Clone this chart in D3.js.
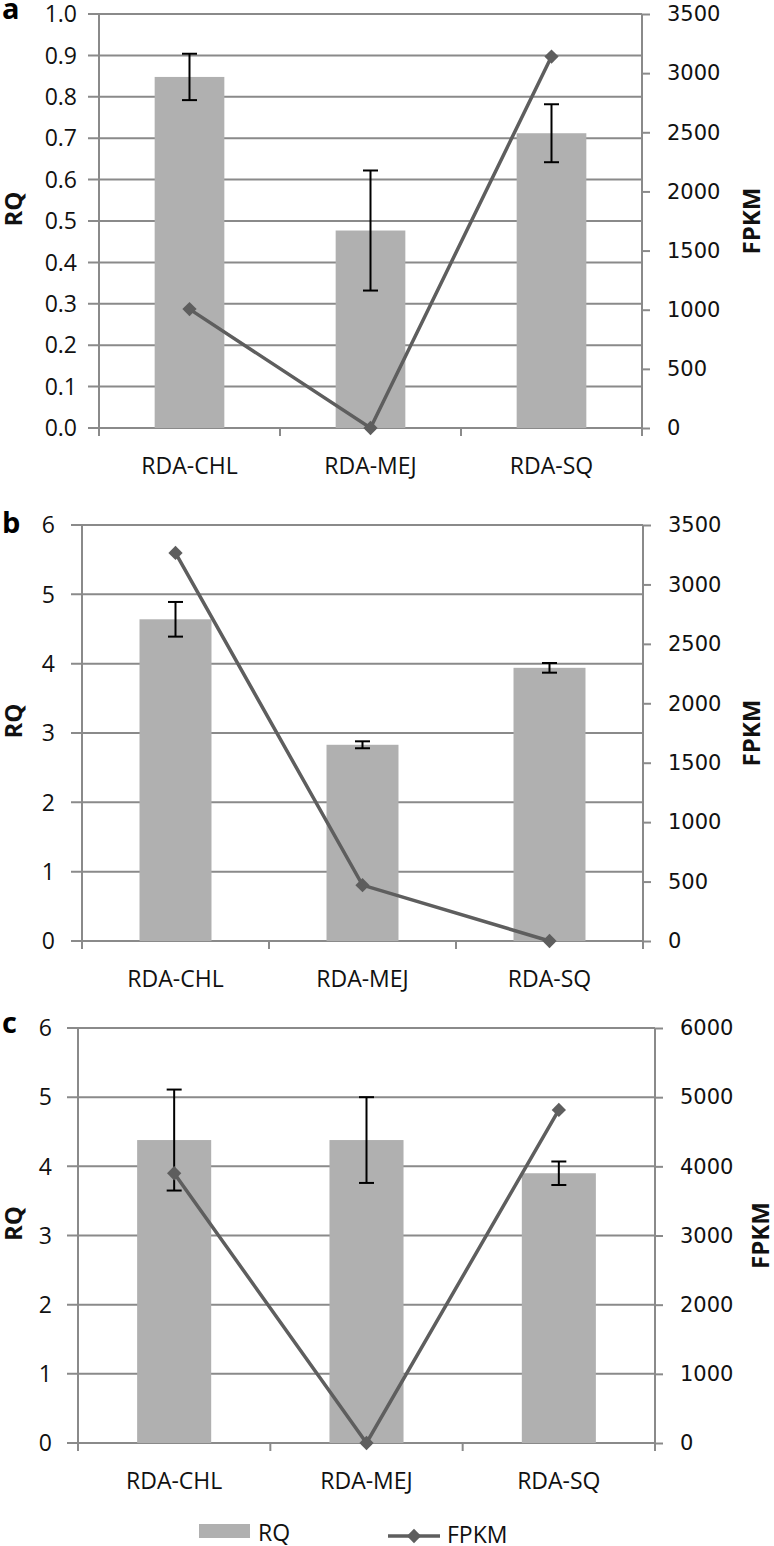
<!DOCTYPE html>
<html>
<head>
<meta charset="utf-8">
<script src="https://cdn.jsdelivr.net/npm/d3@7"></script>
<style>
  body { margin: 0; background: #fff; }
  svg { display: block; }
</style>
</head>
<body>
<div id="chart"></div>
<script>
// data
var categories = ["RDA-CHL", "RDA-MEJ", "RDA-SQ"];

var rqA = [0.848, 0.477, 0.712];
var errA = [0.056, 0.145, 0.07];
var fpkmA = [1005, 0, 3140];

var rqB = [4.64, 2.83, 3.94];
var errB = [0.25, 0.05, 0.07];
var fpkmB = [3265, 470, 0];

var rqC = [4.38, 4.38, 3.90];
var errC = [0.73, 0.62, 0.17];
var fpkmC = [3900, 0, 4815];

var leftTicksA = [0, 0.1, 0.2, 0.3, 0.4, 0.5, 0.6, 0.7, 0.8, 0.9, 1.0];
var leftTicksBC = [0, 1, 2, 3, 4, 5, 6];
var rightTicksAB = [0, 500, 1000, 1500, 2000, 2500, 3000, 3500];
var rightTicksC = [0, 1000, 2000, 3000, 4000, 5000, 6000];

var width = 774, height = 1546;
var gridColor = "#8a8a8a";
var barColor = "#b0b0b0";
var lineColor = "#5e5e5e";
var numFont = "'Open Sans', sans-serif";
var rightFont = "'DejaVu Sans', Verdana, sans-serif";

var svg = d3.select("#chart")
    .append("svg")
    .attr("width", width)
    .attr("height", height);

// one panel per gene
var panels = [
    { tag: "a", rq: rqA, err: errA, fpkm: fpkmA, yMax: 1.0, y2Max: 3500,
      leftTicks: leftTicksA, rightTicks: rightTicksAB, fmt: d3.format(".1f"),
      left: 99, right: 642, top: 14, bottom: 428, tagY: 19, labelGap: 11, fpkmX: 760 },
    { tag: "b", rq: rqB, err: errB, fpkm: fpkmB, yMax: 6, y2Max: 3500,
      leftTicks: leftTicksBC, rightTicks: rightTicksAB, fmt: d3.format("d"),
      left: 82, right: 643, top: 525, bottom: 941, tagY: 533, labelGap: 16, fpkmX: 760 },
    { tag: "c", rq: rqC, err: errC, fpkm: fpkmC, yMax: 6, y2Max: 6000,
      leftTicks: leftTicksBC, rightTicks: rightTicksC, fmt: d3.format("d"),
      left: 78, right: 655, top: 1028, bottom: 1443, tagY: 1033, labelGap: 15, fpkmX: 769 }
];

panels.forEach(function(p) {
    var g = svg.append("g");

    var x = d3.scaleBand()
        .domain(categories)
        .range([p.left, p.right])
        .padding(0);
    var y = d3.scaleLinear().domain([0, p.yMax]).range([p.bottom, p.top]);
    var y2 = d3.scaleLinear().domain([0, p.y2Max]).range([p.bottom, p.top]);

    // horizontal gridlines (with the little tick out to the left)
    g.selectAll(".grid")
        .data(p.leftTicks)
        .enter()
        .append("line")
        .attr("x1", p.left - 11)
        .attr("x2", p.right)
        .attr("y1", function(d) { return y(d); })
        .attr("y2", function(d) { return y(d); })
        .attr("stroke", gridColor)
        .attr("stroke-width", 2);

    // left tick labels
    g.selectAll(".ltext")
        .data(p.leftTicks)
        .enter()
        .append("text")
        .attr("x", p.left - 11 - p.labelGap)
        .attr("y", function(d) { return y(d); })
        .attr("dy", "0.36em")
        .attr("text-anchor", "end")
        .attr("font-family", numFont)
        .attr("font-size", 23)
        .attr("fill", "#111")
        .text(function(d) { return p.fmt(d); });

    // bars
    var barW = x.bandwidth() * 0.385;
    g.selectAll(".bar")
        .data(p.rq)
        .enter()
        .append("rect")
        .attr("x", function(d, i) { return x(categories[i]) + x.bandwidth() / 2 - barW / 2; })
        .attr("y", function(d) { return y(d); })
        .attr("width", barW)
        .attr("height", function(d) { return p.bottom - y(d); })
        .attr("fill", barColor);

    // left axis line
    g.append("line")
        .attr("x1", p.left).attr("x2", p.left)
        .attr("y1", p.top).attr("y2", p.bottom + 8)
        .attr("stroke", gridColor).attr("stroke-width", 2);

    // category ticks on the x axis
    var bounds = [0, 1, 2, 3].map(function(i) { return p.left + i * x.bandwidth(); });
    g.selectAll(".xtick")
        .data(bounds)
        .enter()
        .append("line")
        .attr("x1", function(d) { return d; })
        .attr("x2", function(d) { return d; })
        .attr("y1", p.bottom)
        .attr("y2", p.bottom + 8)
        .attr("stroke", gridColor)
        .attr("stroke-width", 2);

    // right axis
    var rightAxis = d3.axisRight(y2)
        .tickValues(p.rightTicks)
        .tickSize(8)
        .tickPadding(17)
        .tickFormat(d3.format("d"));
    var ra = g.append("g")
        .attr("transform", "translate(" + p.right + ",0)")
        .call(rightAxis);
    ra.select(".domain").remove();
    ra.append("line")
        .attr("x1", 0).attr("x2", 0)
        .attr("y1", p.top).attr("y2", p.bottom + 8)
        .attr("stroke", gridColor).attr("stroke-width", 2);
    ra.selectAll(".tick line").attr("stroke", gridColor).attr("stroke-width", 2);
    ra.selectAll(".tick text")
        .attr("font-family", rightFont)
        .attr("font-size", 21)
        .attr("fill", "#111");

    // error bars
    var eb = g.selectAll(".err")
        .data(p.rq)
        .enter()
        .append("g")
        .attr("transform", function(d, i) {
            return "translate(" + (x(categories[i]) + x.bandwidth() / 2) + ",0)";
        });
    eb.append("line")
        .attr("x1", 0).attr("x2", 0)
        .attr("y1", function(d, i) { return y(d + p.err[i]); })
        .attr("y2", function(d, i) { return y(d - p.err[i]); })
        .attr("stroke", "#000").attr("stroke-width", 2);
    eb.append("line")
        .attr("x1", -7.5).attr("x2", 7.5)
        .attr("y1", function(d, i) { return y(d + p.err[i]); })
        .attr("y2", function(d, i) { return y(d + p.err[i]); })
        .attr("stroke", "#000").attr("stroke-width", 2);
    eb.append("line")
        .attr("x1", -7.5).attr("x2", 7.5)
        .attr("y1", function(d, i) { return y(d - p.err[i]); })
        .attr("y2", function(d, i) { return y(d - p.err[i]); })
        .attr("stroke", "#000").attr("stroke-width", 2);

    // FPKM line with diamonds
    var line = d3.line()
        .x(function(d, i) { return x(categories[i]) + x.bandwidth() / 2; })
        .y(function(d) { return y2(d); });
    g.append("path")
        .datum(p.fpkm)
        .attr("d", line)
        .attr("fill", "none")
        .attr("stroke", lineColor)
        .attr("stroke-width", 3.5);
    g.selectAll(".dia")
        .data(p.fpkm)
        .enter()
        .append("path")
        .attr("d", d3.symbol().type(d3.symbolDiamond2).size(130))
        .attr("transform", function(d, i) {
            return "translate(" + (x(categories[i]) + x.bandwidth() / 2) + "," + y2(d) + ")";
        })
        .attr("fill", lineColor);

    // category labels
    g.selectAll(".cat")
        .data(categories)
        .enter()
        .append("text")
        .attr("x", function(d) { return x(d) + x.bandwidth() / 2; })
        .attr("y", p.bottom + 46)
        .attr("text-anchor", "middle")
        .attr("font-family", numFont)
        .attr("font-size", 23)
        .attr("fill", "#111")
        .text(function(d) { return d; });

    // axis titles
    var midY = (p.top + p.bottom) / 2;
    g.append("text")
        .attr("transform", "translate(22," + (midY - 12) + ")rotate(-90)")
        .attr("text-anchor", "middle")
        .attr("font-family", numFont)
        .attr("font-weight", "bold")
        .attr("font-size", 24)
        .attr("fill", "#111")
        .text("RQ");
    g.append("text")
        .attr("transform", "translate(" + p.fpkmX + "," + midY + ")rotate(-90)")
        .attr("text-anchor", "middle")
        .attr("font-family", numFont)
        .attr("font-weight", "bold")
        .attr("font-size", 24)
        .attr("fill", "#111")
        .text("FPKM");

    // panel letter
    g.append("text")
        .attr("x", 2)
        .attr("y", p.tagY)
        .attr("font-family", numFont)
        .attr("font-weight", "bold")
        .attr("font-size", 29)
        .attr("fill", "#000")
        .text(p.tag);
});

// legend
var legend = svg.append("g");
legend.append("rect")
    .attr("x", 199).attr("y", 1524)
    .attr("width", 51).attr("height", 14)
    .attr("fill", barColor);
legend.append("text")
    .attr("x", 258).attr("y", 1541)
    .attr("font-family", numFont).attr("font-size", 23).attr("fill", "#111")
    .text("RQ");
legend.append("line")
    .attr("x1", 388).attr("x2", 440)
    .attr("y1", 1536).attr("y2", 1536)
    .attr("stroke", lineColor).attr("stroke-width", 3.5);
legend.append("path")
    .attr("d", d3.symbol().type(d3.symbolDiamond2).size(130))
    .attr("transform", "translate(414,1536)")
    .attr("fill", lineColor);
legend.append("text")
    .attr("x", 447).attr("y", 1543)
    .attr("font-family", numFont).attr("font-size", 23).attr("fill", "#111")
    .text("FPKM");
</script>
</body>
</html>
